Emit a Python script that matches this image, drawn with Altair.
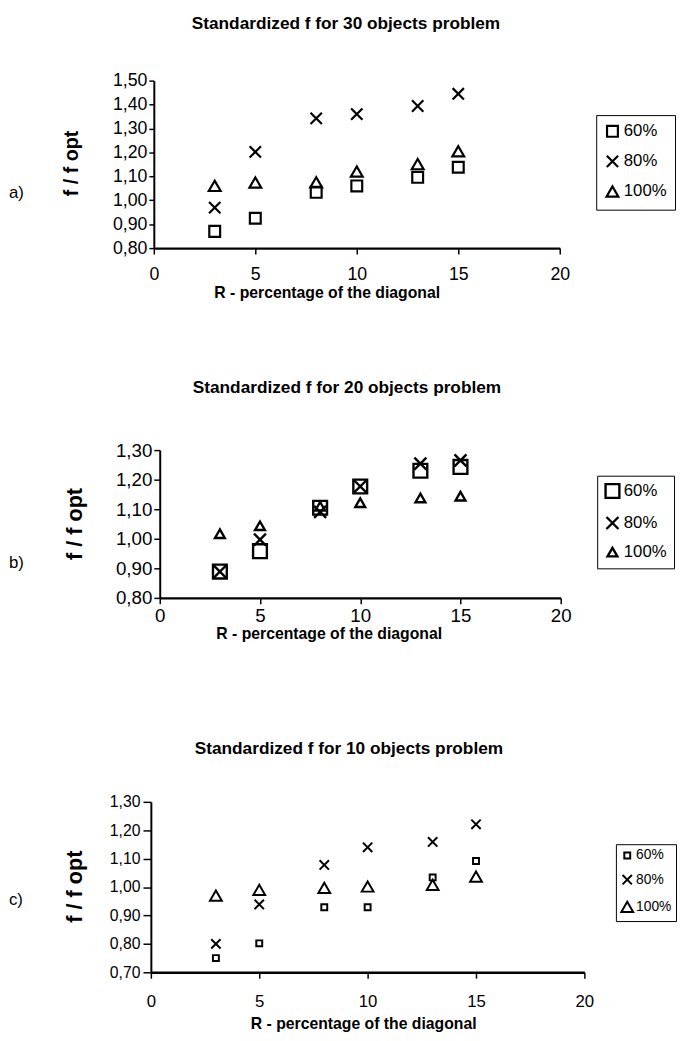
import altair as alt
import pandas as pd

# ---------------- data ----------------
R = [3, 5, 8, 10, 13, 15]
SERIES = ["60%", "80%", "100%"]

a_60 = [0.87, 0.925, 1.033, 1.06, 1.096, 1.138]
a_80 = [0.969, 1.202, 1.342, 1.36, 1.394, 1.445]
a_100 = [1.06, 1.074, 1.075, 1.12, 1.151, 1.205]

b_60 = [0.889, 0.958, 1.105, 1.177, 1.23, 1.243]
b_80 = [0.889, 0.997, 1.091, 1.177, 1.254, 1.265]
b_100 = [1.017, 1.044, 1.11, 1.122, 1.138, 1.144]

c_60 = [0.75, 0.802, 0.929, 0.929, 1.034, 1.092]
c_80 = [0.80, 0.939, 1.078, 1.14, 1.159, 1.221]
c_100 = [0.97, 0.99, 0.997, 1.002, 1.008, 1.037]

x_ticks = [0, 5, 10, 15, 20]
ticks_a = [0.8, 0.9, 1.0, 1.1, 1.2, 1.3, 1.4, 1.5]
ticks_b = [0.8, 0.9, 1.0, 1.1, 1.2, 1.3]
ticks_c = [0.7, 0.8, 0.9, 1.0, 1.1, 1.2, 1.3]

titles = ["Standardized f for 30 objects problem",
          "Standardized f for 20 objects problem",
          "Standardized f for 10 objects problem"]
panel_labels = ["a)", "b)", "c)"]
y_title = "f / f opt"
x_title = "R - percentage of the diagonal"

FONT = "Liberation Sans"
X0 = 150  # page x of every panel's group origin
XPATH = "M-1,-1L1,1M-1,1L1,-1"


def text_layer(txt, px, py, top, fs, bold=False, angle=0, align="center"):
    d = pd.DataFrame({"t": [txt]})
    kw = dict(fontSize=fs, font=FONT, color="black", align=align, baseline="middle")
    if bold:
        kw["fontWeight"] = "bold"
    if angle:
        kw["angle"] = angle
    return alt.Chart(d).mark_text(**kw).encode(
        x=alt.value(px - X0), y=alt.value(py - top), text="t:N")


def panel(v60, v80, v100, P):
    top = P["top"]
    df = pd.DataFrame({
        "R": R * 3,
        "v": v60 + v80 + v100,
        "s": ["60%"] * 6 + ["80%"] * 6 + ["100%"] * 6,
    })
    xr0 = P["left"] - X0
    xr1 = P["right"] - X0
    height = P["bottom"] - top
    leg = dict(
        orient="none", legendX=P["leg_x"] - X0, legendY=P["leg_y"] - top,
        title=None, labelFont=FONT, labelFontSize=P["leg_fs"], labelColor="black",
        strokeColor="black", fillColor="white", padding=P["leg_pad"],
        rowPadding=P["leg_row"], labelOffset=P["leg_off"],
        symbolStrokeColor="black", symbolStrokeWidth=P["sw"],
    )
    pts = alt.Chart(df).mark_point(filled=False, color="black", opacity=1,
                                   strokeWidth=P["sw"]).encode(
        x=alt.X("R:Q", scale=alt.Scale(domain=[0, 20], range=[xr0, xr1], nice=False, zero=False),
                axis=alt.Axis(values=x_ticks, format="d", title=None, grid=False,
                              labelFontSize=P["xl_fs"], labelPadding=P["xl_pad"],
                              tickSize=6, labelFlush=False, labelOverlap=False,
                              domainWidth=2.5)),
        y=alt.Y("v:Q", scale=alt.Scale(domain=P["ydom"], nice=False, zero=False),
                axis=alt.Axis(values=P["yticks"],
                              labelExpr="replace(format(datum.value, '.2f'), '.', ',')",
                              title=None, grid=False, labelFontSize=P["yl_fs"],
                              labelPadding=P["yl_pad"], tickSize=P["ytick"],
                              offset=-xr0, labelOverlap=False, domainWidth=2)),
        shape=alt.Shape("s:N", scale=alt.Scale(domain=SERIES, range=["square", XPATH, "triangle-up"]),
                        legend=alt.Legend(**leg)),
        size=alt.Size("s:N", scale=alt.Scale(domain=SERIES, range=P["sizes"]),
                      legend=alt.Legend(**leg)),
    )
    # white, invisible rule that fixes the vertical/horizontal extent of each row
    bound = alt.Chart(pd.DataFrame({"a": [0]})).mark_rule(color="white", strokeWidth=0.5).encode(
        x=alt.value(8 - X0), y=alt.value(P["row_top"] - top), y2=alt.value(P["row_bottom"] - top))
    layers = [
        bound,
        pts,
        text_layer(P["title"], P["title_x"], P["title_y"], top, P["title_fs"], bold=True),
        text_layer(P["label"], 8, P["label_y"], top, 17, align="left"),
        text_layer(y_title, P["yt_x"], P["yt_y"], top, P["yt_fs"], bold=True, angle=270),
        text_layer(x_title, P["xt_x"], P["xt_y"], top, P["xt_fs"], bold=True),
    ]
    return alt.layer(*layers).properties(width=xr1, height=height)


PA = dict(top=72, bottom=242, left=155, right=567, row_top=8, row_bottom=358,
          ydom=[0.8, 1.5], yticks=ticks_a, yl_fs=18, yl_pad=2, ytick=5,
          xl_fs=18, xl_pad=12, sw=2.2, sizes=[121, 144, 81],
          title=titles[0], title_x=350, title_y=15, title_fs=17.5,
          label=panel_labels[0], label_y=186, yt_x=72, yt_y=156, yt_fs=20,
          xt_x=331, xt_y=288, xt_fs=16,
          leg_x=604, leg_y=107, leg_fs=17, leg_pad=8, leg_row=9.5, leg_off=3)

PB = dict(top=445, bottom=595, left=161, right=568, row_top=358, row_bottom=725,
          ydom=[0.8, 1.3], yticks=ticks_b, yl_fs=19, yl_pad=2, ytick=6,
          xl_fs=19, xl_pad=3, sw=2.4, sizes=[196, 100, 81],
          title=titles[1], title_x=351, title_y=382, title_fs=17.5,
          label=panel_labels[1], label_y=560, yt_x=75, yt_y=520, yt_fs=22,
          xt_x=333, xt_y=632, xt_fs=16,
          leg_x=605, leg_y=471, leg_fs=17, leg_pad=7, leg_row=8.5, leg_off=3)

PC = dict(top=800, bottom=973, left=152, right=592, row_top=725, row_bottom=1033,
          ydom=[0.7, 1.3], yticks=ticks_c, yl_fs=16, yl_pad=3, ytick=8,
          xl_fs=17, xl_pad=16, sw=2, sizes=[36, 144, 169],
          title=titles[2], title_x=353, title_y=746, title_fs=17.5,
          label=panel_labels[2], label_y=900, yt_x=75, yt_y=886, yt_fs=22,
          xt_x=368, xt_y=1026, xt_fs=16,
          leg_x=624, leg_y=843, leg_fs=14, leg_pad=4.5, leg_row=8.5, leg_off=2)

chart = alt.vconcat(
    panel(a_60, a_80, a_100, PA),
    panel(b_60, b_80, b_100, PB),
    panel(c_60, c_80, c_100, PC),
    spacing=0,
).resolve_scale(shape="independent", size="independent").resolve_legend(
    shape="independent", size="independent"
).properties(padding=0).configure_view(stroke=None).configure_axis(
    labelFont=FONT, labelColor="black", domainColor="black", tickColor="black", tickWidth=1.5
)

chart.save("out.html", embed_options={"renderer": "svg", "actions": False})
